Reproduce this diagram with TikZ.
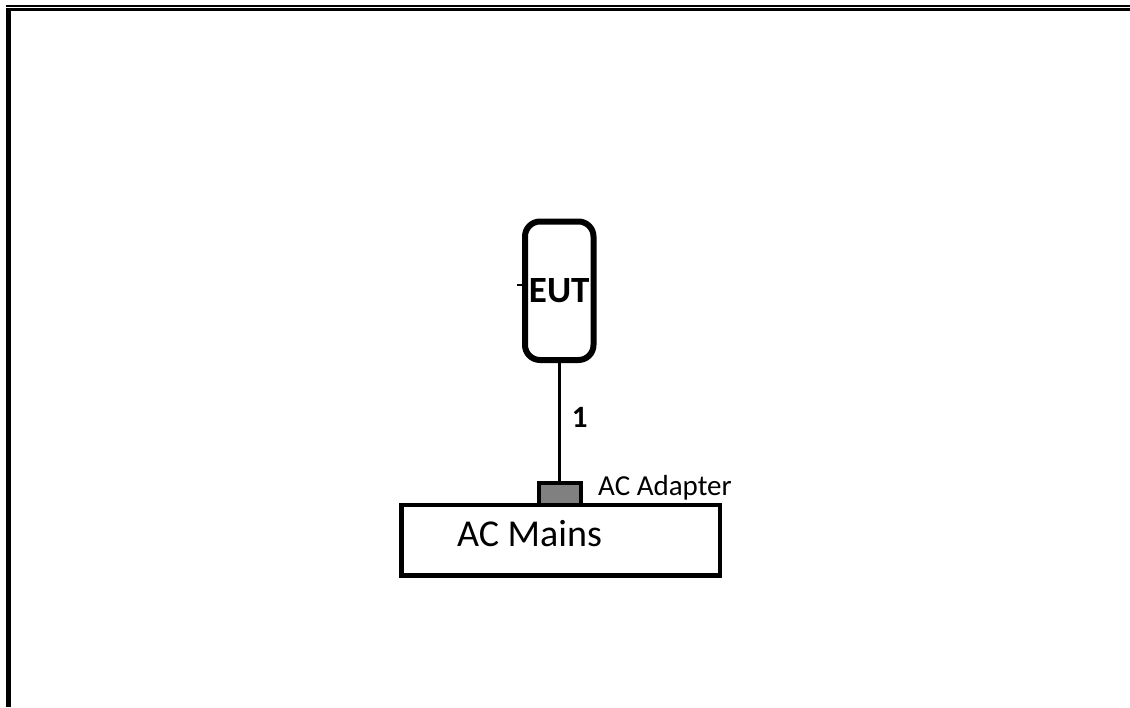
\documentclass[tikz,border=0pt]{standalone}
\usepackage{fontspec}
\setmainfont{Carlito}
\usepackage{tikz}
\usetikzlibrary{positioning, calc}

\begin{document}
\begin{tikzpicture}[x=1pt, y=-1pt,
        device/.style={rectangle, draw, line width=6, rounded corners=15, minimum width=68.5, minimum height=138.5, inner sep=0, align=center, font=\fontsize{37}{40}\selectfont\bfseries},
        adapter/.style={rectangle, draw, line width=3.5, fill=gray, minimum width=42, minimum height=22, inner sep=0},
        mains/.style={rectangle, draw, line width=4.5, minimum width=318.5, minimum height=70.5, inner sep=0},
        cable/.style={line width=3},
        tag/.style={inner sep=0, anchor=base west}
    ]
        \useasboundingbox (0,0) rectangle (1130,707);

        % Frame
        \draw[line width=2] (6,5.5) -- (1130,5.5);
        \draw[line width=3] (6,9.5) -- (1130,9.5);
        \draw[line width=5] (8,8) -- (8,707);

        % Nodes
        \node[device] (eut) at (559.25, 290.75) {\raisebox{-3pt}{EUT}};
        \node[mains] (acmains) at (560.75, 540.25) {};
        \node[adapter] (acadapter) at (560, 494) {};
        \node[tag, font=\fontsize{38}{42}\selectfont] (mainstext) at (457, 546) {AC Mains};
        \node[tag, font=\fontsize{29}{32}\selectfont] (adaptertext) at (598, 495) {AC Adapter};

        % Cable
        \draw[cable] (eut.south) -- (eut.south |- acadapter.north) node[pos=0.46, right=11pt, inner sep=0, font=\fontsize{31}{34}\selectfont\bfseries] (cableno) {1};
        \draw[line width=2.5] (517, 285) -- (eut.west |- 0, 285);
    \end{tikzpicture}
\end{document}
